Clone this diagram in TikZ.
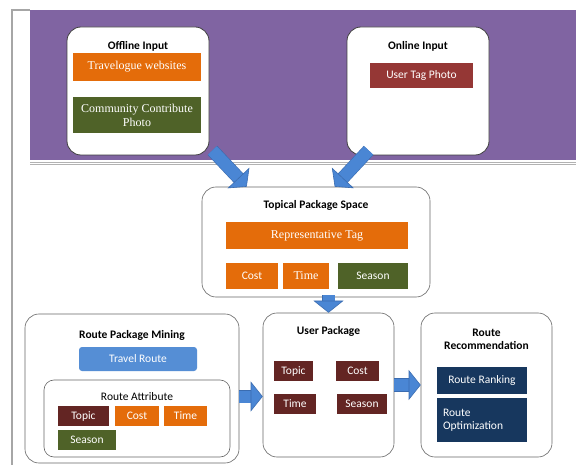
\documentclass[tikz,border=0pt]{standalone}
\usepackage{fontspec}
\setmainfont{Liberation Serif}
\setsansfont{Carlito}
\usetikzlibrary{positioning,arrows.meta,calc}

\definecolor{bandpurple}{HTML}{8064A2}
\definecolor{tagorange}{HTML}{E46C0A}
\definecolor{taggreen}{HTML}{4F6228}
\definecolor{tagred}{HTML}{953735}
\definecolor{tagmaroon}{HTML}{632523}
\definecolor{tagblue}{HTML}{558ED5}
\definecolor{tagnavy}{HTML}{17375E}
\definecolor{arrowblue}{HTML}{4A86D4}
\definecolor{arrowedge}{HTML}{3A6CB0}

\begin{document}
\begin{tikzpicture}[x=1pt,y=-1pt,
    panel/.style={draw=black!75, line width=0.8pt, rounded corners=14pt, fill=white},
    subpanel/.style={draw=black!60, line width=0.6pt, rounded corners=10pt, fill=white},
    title/.style={font=\sffamily\bfseries\fontsize{11.5}{13}\selectfont, align=center},
    tagbox/.style={text=white, inner sep=0pt, align=center,
        font=\sffamily\fontsize{11.5}{13.5}\selectfont},
    serifbox/.style={tagbox, font=\rmfamily\fontsize{12}{14}\selectfont},
    fatarrow/.style={draw=arrowedge, line width=0.6pt, double=arrowblue, double distance=12pt,
        -{Triangle[width=30pt,length=12pt,fill=arrowblue]}},
]
\useasboundingbox (0,0) rectangle (576,465);

% frame and input band
\fill[white] (0,0) rectangle (576,465);
\fill[bandpurple] (30,10) rectangle (576,160);
\draw[gray!70, line width=1.2pt] (30,10) -- (12,10) -- (12,465);
\draw[gray!60, line width=2.5pt] (30,163.5) -- (576,163.5);
\draw[white, line width=0.6pt] (30,163.5) -- (576,163.5);

% inputs
\node[panel, minimum width=142, minimum height=128] (offline) at (138,91) {};
\node[title] (offlineT) at (138,46) {Offline Input};
\node[serifbox, fill=tagorange, minimum width=128, minimum height=28] (travelogue) at (137,67) {Travelogue websites};
\node[serifbox, fill=taggreen, minimum width=128, minimum height=36] (community) at (137,115) {Community Contribute\\Photo};

\node[panel, minimum width=142, minimum height=128] (online) at (418,91) {};
\node[title] (onlineT) at (418,46) {Online Input};
\node[tagbox, fill=tagred, minimum width=103, minimum height=25] (usertag) at (421.5,75.5) {User Tag Photo};

% topical package space
\node[subpanel, rounded corners=14pt, minimum width=228, minimum height=110] (topical) at (316,242) {};
\node[title] (topicalT) at (316,205) {Topical Package Space};
\node[serifbox, fill=tagorange, minimum width=182, minimum height=27] (reptag) at (317,235.5) {Representative Tag};
\node[tagbox, fill=tagorange, minimum width=52, minimum height=26] (costA) at (252,276) {Cost};
\node[serifbox, fill=tagorange, minimum width=46, minimum height=26] (timeA) at (306,276) {Time};
\node[tagbox, fill=taggreen, minimum width=70, minimum height=26] (seasonA) at (373,276) {Season};

% route package mining
\node[subpanel, rounded corners=14pt, minimum width=214, minimum height=149] (mining) at (132,388.5) {};
\node[title] (miningT) at (132,335) {Route Package Mining};
\node[tagbox, fill=tagblue, rounded corners=3pt, minimum width=118, minimum height=24] (travelroute) at (138,359) {Travel Route};
\node[subpanel, minimum width=186, minimum height=77] (attr) at (137,418.5) {};
\node[tagbox, text=black] (attrT) at (137,397) {Route Attribute};
\node[tagbox, fill=tagmaroon, minimum width=51, minimum height=20] (topicB) at (83.5,416) {Topic};
\node[tagbox, fill=tagorange, minimum width=44, minimum height=20] (costB) at (137,416) {Cost};
\node[tagbox, fill=tagorange, minimum width=43, minimum height=20] (timeB) at (185.5,416) {Time};
\node[tagbox, fill=taggreen, minimum width=58, minimum height=20] (seasonB) at (87,440) {Season};

% user package
\node[subpanel, rounded corners=14pt, minimum width=131, minimum height=144] (userpkg) at (328.5,385) {};
\node[title] (userpkgT) at (328.5,331) {User Package};
\node[tagbox, fill=tagmaroon, minimum width=39, minimum height=20] (topicC) at (293.5,371) {Topic};
\node[tagbox, fill=tagmaroon, minimum width=43, minimum height=20] (costC) at (357.5,371) {Cost};
\node[tagbox, fill=tagmaroon, minimum width=42, minimum height=20] (timeC) at (295,404) {Time};
\node[tagbox, fill=tagmaroon, minimum width=50, minimum height=20] (seasonC) at (362,404) {Season};

% route recommendation
\node[subpanel, rounded corners=14pt, minimum width=131, minimum height=144] (recom) at (486.5,385) {};
\node[title] (recomT) at (486.5,339) {Route\\Recommendation};
\node[tagbox, fill=tagnavy, minimum width=90, minimum height=27] (ranking) at (482,380.5) {Route Ranking};
\node[tagbox, fill=tagnavy, minimum width=90, minimum height=44, text width=78, align=left] (optim) at (482,420) {Route\\Optimization};

% flow
\draw[fatarrow] ([xshift=3pt,yshift=5pt]offline.south east) -- ([xshift=45pt]topical.north west);
\draw[fatarrow] ([xshift=22pt,yshift=5pt]online.south west) -- ([xshift=133pt]topical.north west);
\draw[fatarrow] ([yshift=2pt]topical.south -| userpkg.north) -- (userpkg.north);
\draw[fatarrow] ([yshift=-8pt]mining.east) -- ([yshift=-8pt]mining.east -| userpkg.west);
\draw[fatarrow] (userpkg) -- (recom);
\end{tikzpicture}
\end{document}
